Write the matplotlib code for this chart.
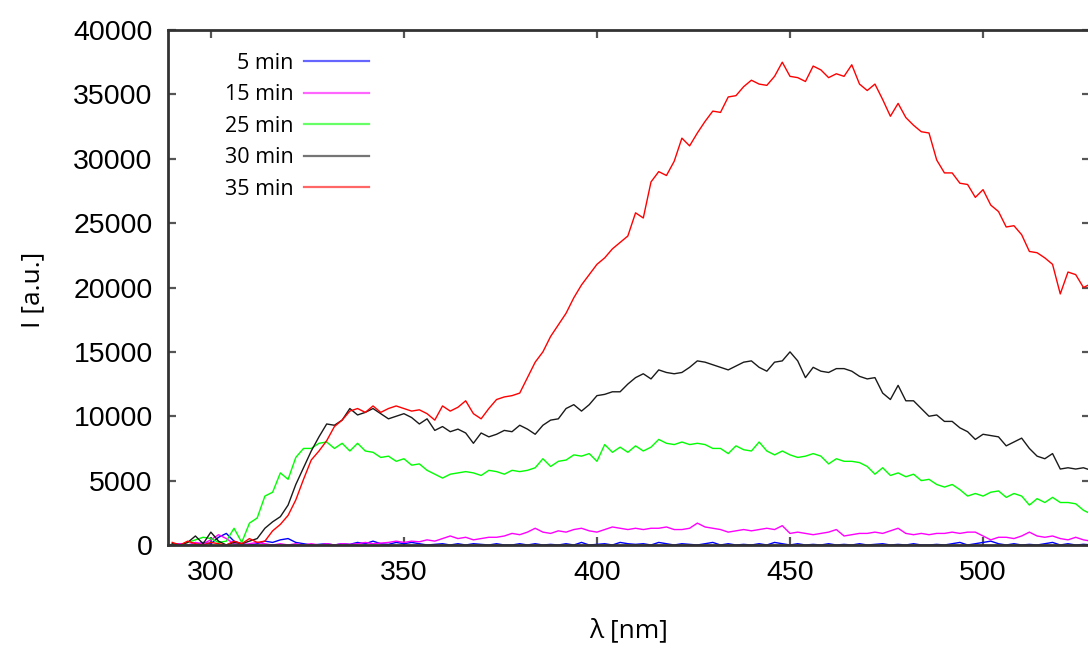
import numpy as np
import matplotlib
matplotlib.use("Agg")
import matplotlib.pyplot as plt

wavelength = list(range(290, 529, 2))

i_05 = [0, 100, 0, 0, 200, 100, 600, 900, 300, 100,
        0, 100, 300, 200, 400, 500, 200, 100, 0, 50,
        100, 0, 100, 50, 200, 100, 300, 100, 50, 200,
        100, 200, 100, 0, 50, 100, 0, 100, 0, 100,
        50, 0, 100, 0, 0, 100, 0, 100, 0, 50,
        0, 100, 0, 200, 0, 50, 100, 0, 200, 100,
        50, 100, 0, 200, 100, 0, 100, 50, 0, 100,
        200, 0, 100, 0, 50, 0, 100, 0, 200, 100,
        0, 100, 0, 50, 0, 100, 0, 50, 0, 100,
        0, 50, 100, 0, 50, 0, 100, 0, 0, 50,
        0, 100, 200, 0, 100, 200, 300, 100, 0, 100,
        0, 50, 0, 100, 200, 0, 100, 0, 50, 0]

i_15 = [0, 100, 0, 200, 100, 400, 800, 500, 100, 0,
        100, 200, 100, 0, 100, 0, 100, 0, 100, 0,
        100, 0, 100, 50, 100, 200, 100, 150, 200, 300,
        200, 300, 250, 400, 300, 500, 700, 500, 600, 400,
        500, 600, 600, 700, 900, 800, 1000, 1300, 1000, 900,
        1100, 1000, 1200, 1300, 1100, 1000, 1200, 1400, 1300, 1200,
        1300, 1200, 1300, 1300, 1400, 1200, 1200, 1300, 1700, 1400,
        1300, 1200, 1000, 1100, 1200, 1100, 1200, 1300, 1200, 1500,
        900, 1000, 900, 800, 900, 1000, 1200, 700, 800, 900,
        900, 1000, 900, 1100, 1300, 900, 800, 900, 800, 900,
        900, 1000, 900, 1000, 1000, 700, 400, 600, 600, 500,
        700, 1000, 700, 600, 700, 500, 400, 600, 400, 300]

i_25 = [100, 0, 200, 400, 600, 500, 200, 300, 1300, 200,
        1700, 2100, 3800, 4100, 5600, 5100, 6800, 7500, 7500, 7900,
        8000, 7500, 7900, 7300, 7900, 7300, 7200, 6800, 6900, 6500,
        6700, 6200, 6300, 5800, 5500, 5200, 5500, 5600, 5700, 5600,
        5400, 5800, 5700, 5500, 5800, 5700, 5800, 6000, 6700, 6100,
        6500, 6600, 7000, 6900, 7100, 6500, 7800, 7200, 7600, 7200,
        7700, 7300, 7600, 8200, 7900, 7800, 8000, 7800, 7900, 7800,
        7500, 7500, 7100, 7700, 7400, 7300, 8000, 7300, 7000, 7300,
        7000, 6800, 6900, 7100, 6900, 6300, 6700, 6500, 6500, 6400,
        6100, 5500, 6000, 5400, 5600, 5300, 5500, 5000, 5100, 4700,
        4500, 4700, 4300, 3800, 4000, 3800, 4100, 4200, 3700, 4000,
        3800, 3100, 3600, 3300, 3700, 3300, 3300, 3200, 2700, 2400]

i_30 = [100, 0, 200, 700, 100, 1000, 300, 0, 200, 100,
        300, 500, 1300, 1800, 2200, 3100, 4700, 6000, 7300, 8400,
        9400, 9300, 9700, 10600, 10100, 10300, 10600, 10200, 9800, 10000,
        10200, 9900, 9400, 9800, 8900, 9200, 8800, 9000, 8700, 7900,
        8700, 8400, 8600, 8900, 8800, 9300, 9000, 8600, 9300, 9700,
        9800, 10600, 10900, 10400, 10900, 11600, 11700, 11900, 11900, 12500,
        13000, 13300, 12900, 13600, 13400, 13300, 13400, 13800, 14300, 14200,
        14000, 13800, 13600, 13900, 14200, 14300, 13800, 13500, 14200, 14300,
        15000, 14300, 13000, 13800, 13500, 13400, 13700, 13700, 13500, 13100,
        12900, 13000, 11800, 11300, 12400, 11200, 11200, 10600, 10000, 10100,
        9600, 9600, 9100, 8800, 8200, 8600, 8500, 8400, 7700, 8000,
        8300, 7500, 6900, 6700, 7100, 5900, 6000, 5900, 6000, 5800]

i_35 = [200, 0, 300, 100, 0, 200, 100, 0, 300, 100,
        500, 200, 300, 1100, 1600, 2300, 3500, 5100, 6600, 7300,
        8100, 9200, 9700, 10400, 10600, 10300, 10800, 10300, 10600, 10800,
        10600, 10400, 10500, 10200, 9700, 10800, 10400, 10700, 11200, 10200,
        9800, 10600, 11300, 11500, 11600, 11800, 13000, 14200, 15000, 16200,
        17100, 18000, 19200, 20200, 21000, 21800, 22300, 23000, 23500, 24000,
        25800, 25400, 28200, 29000, 28700, 29800, 31600, 31000, 32000, 32900,
        33700, 33600, 34800, 34900, 35600, 36100, 35800, 35700, 36400, 37500,
        36400, 36300, 36000, 37200, 36900, 36300, 36600, 36400, 37300, 35800,
        35300, 35800, 34600, 33300, 34300, 33200, 32600, 32100, 32000, 29900,
        28900, 28900, 28100, 28000, 27000, 27600, 26400, 25900, 24700, 24800,
        24100, 22800, 22700, 22300, 21800, 19500, 21200, 21000, 20000, 20300]

labels = ["5 min", "15 min", "25 min", "30 min", "35 min"]
colors = ["#0000ff", "#ff00ff", "#00ff00", "#1a1a1a", "#ff0000"]
series = [i_05, i_15, i_25, i_30, i_35]

x_ticks = [300, 350, 400, 450, 500]
y_ticks = [0, 5000, 10000, 15000, 20000, 25000, 30000, 35000, 40000]

fig = plt.figure(figsize=(10.88, 6.48), dpi=100)
ax = fig.add_axes([168 / 1088, 103 / 648, 922 / 1088, 515 / 648])

for ys, c, lab in zip(series, colors, labels):
    ax.plot(wavelength, ys, color=c, lw=1.0, label=lab)

ax.set_xticks(x_ticks)
ax.set_yticks(y_ticks)
ax.set_xlim(288.9, 527.7)
ax.set_ylim(0, 40000)

for s in ax.spines.values():
    s.set_color("#333333")
    s.set_linewidth(2.0)

ax.tick_params(direction="in", length=6, width=1.6, color="#555555",
               top=True, right=True, labelsize=20.5, pad=11)
for lab in ax.get_xticklabels() + ax.get_yticklabels():
    lab.set_fontfamily("Liberation Sans")

ax.set_xlabel("λ [nm]", fontsize=19, fontfamily="Open Sans")
ax.set_ylabel("I [a.u.]", fontsize=19, fontfamily="Open Sans")
ax.xaxis.set_label_coords(0.5, -0.142)
ax.yaxis.set_label_coords(-0.133, 0.495)

leg = ax.legend(loc="upper left", bbox_to_anchor=(0.0613, 0.956), frameon=False,
                markerfirst=False, handlelength=3.0, handletextpad=0.5,
                labelspacing=0.49, borderpad=0, borderaxespad=0,
                prop={"family": "Open Sans", "size": 15.5})
for line in leg.get_lines():
    line.set_linewidth(1.6)
    line.set_alpha(0.6)

fig.savefig("out.png", dpi=100)
